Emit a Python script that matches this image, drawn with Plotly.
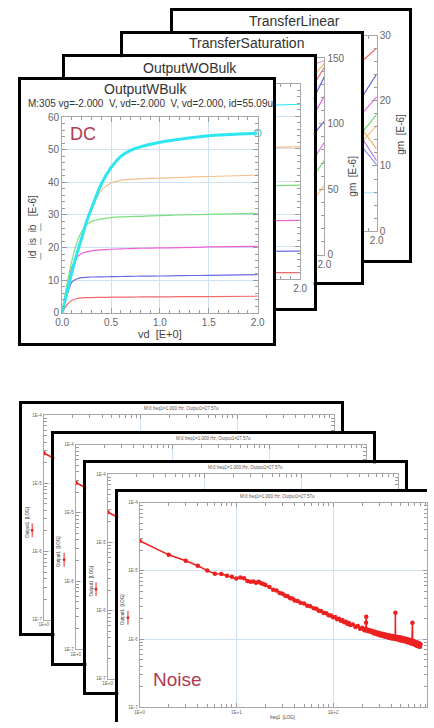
import plotly.graph_objects as go

W, H = 434, 728

# ---------------- DC data: OutputWBulk (front card) ----------------
vd = [0, 0.05, 0.1, 0.15, 0.2, 0.25, 0.3, 0.4, 0.5, 0.6, 0.7, 0.8, 1.0, 1.2, 1.5, 2.0]
id_cyan = [0, 6.5, 12.5, 18.0, 23.0, 28.0, 32.0, 39.5, 44.5, 48.0, 49.8, 50.9, 52.3, 53.2, 54.3, 55.09]
id_orange = [0, 6.0, 12.0, 17.5, 23.0, 28.0, 32.5, 37.5, 39.8, 40.6, 40.9, 41.1, 41.3, 41.5, 41.8, 42.2]
id_green = [0, 9.0, 16.0, 21.5, 25.0, 27.0, 28.0, 28.8, 29.2, 29.4, 29.5, 29.6, 29.8, 30.0, 30.2, 30.5]
id_magenta = [0, 7.5, 14.0, 17.0, 18.2, 18.7, 19.0, 19.3, 19.5, 19.6, 19.7, 19.8, 19.9, 20.0, 20.2, 20.4]
id_blue = [0, 5.5, 9.5, 10.4, 10.8, 10.9, 11.0, 11.05, 11.1, 11.15, 11.2, 11.25, 11.3, 11.4, 11.5, 11.7]
id_red = [0, 2.5, 3.8, 4.4, 4.6, 4.65, 4.7, 4.75, 4.8, 4.82, 4.85, 4.87, 4.9, 4.95, 5.0, 5.1]
cursor_vd = [2.0]
cursor_id = [55.09]

# ---------------- OutputWOBulk (visible right edge) ----------------
vd_wo = [1.5, 2.0]
wo_cyan = [53.2, 53.7]
wo_orange = [40.3, 40.7]
wo_green = [28.6, 28.9]
wo_magenta = [17.9, 18.1]
wo_blue = [8.6, 8.7]
wo_red = [2.1, 2.1]

# ---------------- TransferSaturation (visible right edge, gm) ----------------
vg_sat = [1.84, 2.0]
sat_pink = [145, 148]
sat_orange = [135, 146]
sat_red = [127, 143]
sat_blue = [116, 136]
sat_magenta = [104, 121]
sat_blue2 = [90, 102]
sat_violet = [70, 86]
sat_green = [58, 72]
sat_yellow = [40, 53]

# ---------------- TransferLinear (visible right edge, gm) ----------------
vg_lin = [1.78, 2.0]
lin_red = [25.6, 28.1]
lin_blue = [19.8, 24.1]
lin_magenta = [17.5, 20.6]
lin_green = [14.5, 17.9]
lin_orange = [13.2, 16.2]
lin_orange2 = [16.3, 12.6]
lin_purple = [15.0, 10.8]
lin_lavender = [13.5, 10.2]
lin_cyan = [5.9, 5.9]

# ---------------- Noise data ----------------
freq1 = [1, 2, 3, 4, 5, 6, 7, 8, 9, 10,
         11, 12, 13, 14, 15, 16, 17, 18, 19, 20,
         22, 24, 26, 28, 30, 32, 34, 36, 38, 40,
         43, 46, 50, 54, 58, 63, 67, 71, 75, 80,
         85, 90, 95, 100, 105, 110, 115, 120, 125, 130,
         135, 140, 145, 150, 160, 170, 180, 190, 200, 210,
         215, 218, 219, 220, 221, 225, 232, 240, 248, 255,
         262, 270, 278, 285, 292, 300, 308, 316, 323, 330,
         338, 345, 352, 360, 368, 375, 382, 390, 398, 405,
         412, 420, 430, 438, 440, 442, 450, 460, 470, 480,
         490, 500, 510, 520, 530, 540, 550, 560, 570, 580,
         590, 600, 610, 620, 630, 640, 650, 660, 665, 670,
         680, 690, 700, 710, 720, 730, 740, 750, 760, 770,
         780, 790, 800]
output1_uV = [27.6, 17.2, 14.1, 11.9, 10.1, 9.1, 9.0, 8.5, 8.2, 7.7,
              8.0, 7.8, 7.1, 6.9, 7.0, 6.7, 6.9, 6.6, 6.4, 6.2,
              5.8, 5.3, 5.15, 4.75, 4.62, 4.30, 4.25, 3.96, 3.92, 3.68,
              3.62, 3.40, 3.31, 3.08, 3.04, 2.82, 2.79, 2.61, 2.59, 2.41,
              2.40, 2.23, 2.22, 2.08, 2.10, 1.96, 1.98, 1.85, 1.88, 1.76,
              1.80, 1.68, 1.72, 1.61, 1.64, 1.50, 1.55, 1.42, 1.47, 1.35,
              1.41, 1.37, 1.74, 2.12, 1.33, 1.38, 1.30, 1.35, 1.27, 1.31,
              1.22, 1.28, 1.19, 1.25, 1.16, 1.23, 1.13, 1.20, 1.12, 1.19,
              1.09, 1.17, 1.08, 1.15, 1.06, 1.14, 1.04, 1.12, 1.03, 1.11,
              1.02, 1.10, 1.01, 1.07, 2.43, 1.02, 1.00, 1.08, 0.98, 1.06,
              0.96, 1.05, 0.95, 1.04, 0.94, 1.02, 0.93, 1.01, 0.92, 1.00,
              0.90, 0.98, 0.89, 0.97, 0.87, 0.96, 0.86, 1.74, 0.94, 0.85,
              0.93, 0.83, 0.91, 0.82, 0.90, 0.80, 0.89, 0.79, 0.87, 0.78,
              0.86, 0.77, 0.84]
output1 = [v * 1e-6 for v in output1_uV]

noise_xticks = [1, 10, 100, 1000]
noise_xtext = ["1E+0", "1E+1", "1E+2", "1E+3"]
noise_yticks = [1e-4, 1e-5, 1e-6, 1e-7]
noise_ytext = ["1E-4", "1E-5", "1E-6", "1E-7"]
dc_xticks = [0, 0.5, 1.0, 1.5, 2.0]
dc_xtext = ["0.0", "0.5", "1.0", "1.5", "2.0"]

# ---------------- styling ----------------
FONT = "Liberation Sans, Arial, sans-serif"
GRID = "#cfe2f3"
AXL = "#a8a8a8"
TICKC = "#9a9a9a"
LABEL_RED = "#b2384f"
C_CYAN, C_ORANGE, C_GREEN = "#2ee6f0", "#f5bf8a", "#7be07b"
C_MAG, C_BLUE, C_RED = "#ee5fd8", "#6b6be6", "#f06a6a"

layout = dict(width=W, height=H, autosize=False,
              margin=dict(l=0, r=0, t=0, b=0, pad=0),
              paper_bgcolor="white", plot_bgcolor="white",
              showlegend=False, hovermode=False,
              font=dict(family=FONT, color="#555"))
traces = []
annotations = []
shapes = []


def ref(p, n):
    return p if n == 1 else p + str(n)


def key(p, n):
    return p if n == 1 else p + str(n)


def xd(a, b):
    return [max(0, a / W), min(1, b / W)]


def yd(top, bot):
    return [max(0, 1 - bot / H), min(1, 1 - top / H)]


def placeholder(n):
    traces.append(go.Scatter(x=[None], y=[None], xaxis=ref("x", n), yaxis=ref("y", n),
                             showlegend=False, hoverinfo="skip"))


def cover(n, x0, y0, x1, y1, lw, full=True):
    common = dict(range=[0, 1], showline=True, linecolor="black", linewidth=lw,
                  mirror=full, showgrid=False, zeroline=False, showticklabels=False,
                  ticks="", fixedrange=True)
    xa = dict(domain=xd(x0, x1), anchor=ref("y", n), **common)
    ya = dict(domain=yd(y0, y1), anchor=ref("x", n), **common)
    if not full:
        xa["side"] = "top"
    layout[key("xaxis", n)] = xa
    layout[key("yaxis", n)] = ya
    placeholder(n)


def lin_axes(n, x0, y0, x1, y1, yrange, ydtick, yminor, yside="left", grid=True, front=True):
    xtext = dc_xtext if front else ["", "", "", "", dc_xtext[-1]]
    xa = dict(domain=xd(x0, x1), anchor=ref("y", n), range=[0, 2],
              tickvals=dc_xticks, ticktext=xtext,
              ticks="inside", ticklen=5, tickcolor=TICKC, showline=True, linecolor=AXL,
              linewidth=1, mirror="ticks", showgrid=grid, gridcolor=GRID, zeroline=False,
              tickfont=dict(size=10, color="#666"), fixedrange=True,
              minor=dict(tickmode="linear", tick0=0, dtick=0.1, ticks="inside", ticklen=3,
                         tickcolor=TICKC, showgrid=False))
    ya = dict(domain=yd(y0, y1), anchor=ref("x", n), range=yrange, side=yside,
              tickmode="linear", tick0=0, dtick=ydtick, showticklabels=(front or yside == "right"),
              ticks="inside", ticklen=5, tickcolor=TICKC, showline=True, linecolor=AXL,
              linewidth=1, mirror="ticks", showgrid=grid, gridcolor=GRID, zeroline=False,
              tickfont=dict(size=10, color="#666"), fixedrange=True,
              minor=dict(tickmode="linear", tick0=0, dtick=yminor, ticks="inside", ticklen=3,
                         tickcolor=TICKC, showgrid=False))
    layout[key("xaxis", n)] = xa
    layout[key("yaxis", n)] = ya


def line(n, x, y, color, width=1.2):
    traces.append(go.Scatter(x=x, y=y, mode="lines",
                             line=dict(color=color, width=width, shape="spline", smoothing=0.6),
                             xaxis=ref("x", n), yaxis=ref("y", n), showlegend=False,
                             hoverinfo="skip"))


def noise_axes(n, x0, y0, x1, y1, front):
    xmax = (min(x1, W) - x0) / 100.0
    xtext = noise_xtext if front else [noise_xtext[0], "", "", ""]
    xa = dict(type="log", domain=xd(x0, x1), anchor=ref("y", n), range=[0, xmax],
              tickvals=noise_xticks, ticktext=xtext, ticks="inside", ticklen=4,
              tickcolor=TICKC, showline=True, linecolor=AXL, linewidth=1, mirror="ticks",
              showgrid=True, gridcolor=GRID, zeroline=False, fixedrange=True,
              tickfont=dict(size=4.5, color="#666"),
              minor=dict(tickmode="linear", dtick="D1", ticks="inside", ticklen=3,
                         tickcolor=TICKC, showgrid=False))
    ya = dict(type="log", domain=yd(y0, y1), anchor=ref("x", n), range=[-7, -4],
              tickvals=noise_yticks, ticktext=noise_ytext, ticks="inside", ticklen=4,
              tickcolor=TICKC, showline=True, linecolor=AXL, linewidth=1, mirror="ticks",
              showgrid=True, gridcolor=GRID, zeroline=False, fixedrange=True,
              tickfont=dict(size=4.5, color="#666"),
              minor=dict(tickmode="linear", dtick="D1", ticks="inside", ticklen=3,
                         tickcolor=TICKC, showgrid=False))
    layout[key("xaxis", n)] = xa
    layout[key("yaxis", n)] = ya
    traces.append(go.Scatter(x=freq1, y=output1, mode="lines+markers",
                             line=dict(color="#ec2020", width=1.5),
                             marker=dict(color="#ec2020", size=4.5),
                             xaxis=ref("x", n), yaxis=ref("y", n), showlegend=False,
                             hoverinfo="skip"))


def text(s, px, py, size, color="#333", angle=0, xanchor="center"):
    annotations.append(dict(text=s, x=px / W, y=1 - py / H, xref="paper", yref="paper",
                            showarrow=False, xanchor=xanchor, yanchor="middle",
                            textangle=angle, font=dict(size=size, color=color, family=FONT)))


# ---- subplot 1: full-paper dummy (makes all later subplots paint their own background)
layout["xaxis"] = dict(domain=[0, 1], visible=False, range=[0, 1], anchor="y")
layout["yaxis"] = dict(domain=[0, 1], visible=False, range=[0, 1], anchor="x")
placeholder(1)

# ---- card 4: TransferLinear
cover(2, 172, 5, 415, 258, 2.5)
lin_axes(3, 215, 30, 382, 229, [0, 30], 10, 2, yside="right", grid=False, front=False)
for ys, c in [(lin_cyan, "#9be6f0"), (lin_lavender, "#8a8ae6"), (lin_purple, "#b07ad6"),
              (lin_orange2, "#f2b56a"), (lin_orange, "#f5c27a"), (lin_green, "#72da72"),
              (lin_magenta, "#e866e0"), (lin_blue, "#5f5fe0"), (lin_red, "#f06a6a")]:
    line(3, vg_lin, ys, c)

# ---- card 3: TransferSaturation
cover(4, 120, 28, 366, 281, 2.5)
lin_axes(5, 161, 53, 328, 253, [0, 150], 50, 10, yside="right", grid=False, front=False)
for ys, c in [(sat_yellow, "#f2c470"), (sat_green, "#72da72"), (sat_violet, "#d27ae6"),
              (sat_blue2, "#5a5ad8"), (sat_magenta, "#e866e0"), (sat_blue, "#5f5fe0"),
              (sat_red, "#f06a6a"), (sat_orange, "#f5b870"), (sat_pink, "#f3a3c3")]:
    line(5, vg_sat, ys, c)

# ---- card 2: OutputWOBulk
cover(6, 60, 52, 317, 307, 2.5)
lin_axes(7, 101, 79, 303, 278, [0, 60], 10, 2, front=False)
for ys, c in [(wo_red, C_RED), (wo_blue, C_BLUE), (wo_magenta, C_MAG),
              (wo_green, C_GREEN), (wo_orange, C_ORANGE), (wo_cyan, C_CYAN)]:
    line(7, vd_wo, ys, c)

# ---- card 1: OutputWBulk (front)
cover(8, 14, 75, 275, 343, 2.5)
lin_axes(9, 57, 113, 259, 312, [0, 60], 10, 2)
for ys, c in [(id_red, C_RED), (id_blue, C_BLUE), (id_magenta, C_MAG),
              (id_green, C_GREEN), (id_orange, C_ORANGE)]:
    line(9, vd, ys, c)
line(9, vd, id_cyan, C_CYAN, width=3)
traces.append(go.Scatter(x=cursor_vd, y=cursor_id, mode="markers",
                         marker=dict(symbol="circle-open", size=7, color="#5fcfe0",
                                     line=dict(width=1.2)),
                         xaxis="x9", yaxis="y9", cliponaxis=False, showlegend=False,
                         hoverinfo="skip"))

# ---- noise cards
noise_cards = [(16, 405, 345, 638), (49, 435, 378, 668), (82, 465, 411, 698), (115, 494, 434, 728)]
n = 10
for i, (cx0, cy0, cx1, cy1) in enumerate(noise_cards):
    front = i == len(noise_cards) - 1
    cover(n, cx0, cy0, cx1, cy1, 3, full=not front)
    px0, py0 = cx0 + 22, cy0 + 11
    noise_axes(n + 1, px0, py0, px0 + 300, py0 + 208, front)
    text("M:0 freq1=1.000 Hz, Output1=27.57u", (cx0 + cx0 + 329) / 2, cy0 + 4.5, 4.5, "#555")
    text("Output1  [LOG]", px0 - 17, py0 + 109, 4.5, "#444", angle=-90)
    shapes.append(dict(type="line", xref="paper", yref="paper", layer="above",
                       x0=(px0 - 12) / W, x1=(px0 - 12) / W,
                       y0=1 - (py0 + 110) / H, y1=1 - (py0 + 124) / H,
                       line=dict(color="#ec2020", width=1)))
    shapes.append(dict(type="circle", xref="paper", yref="paper", layer="above",
                       x0=(px0 - 13.2) / W, x1=(px0 - 10.8) / W,
                       y0=1 - (py0 + 115.8) / H, y1=1 - (py0 + 118.2) / H,
                       fillcolor="#ec2020", line=dict(color="#ec2020", width=0.5)))
    n += 2

# ---- texts
text("TransferLinear", 297, 15, 14)
text("TransferSaturation", 247, 38, 14)
text("OutputWOBulk", 189, 63, 14)
text("OutputWBulk", 143, 84, 14)
text("M:305 vg=-2.000  V, vd=-2.000  V, vd=2.000, id=55.09u", 20, 99, 10, "#333", xanchor="left")
text("DC", 79, 130, 18, LABEL_RED)
text("vd  [E+0]", 158, 333, 11, "#444")
text("id  is  ib   [E-6]", 26, 224, 10, "#444", angle=-90)
text("gm  [E-6]", 357, 173, 10, "#444", angle=-90)
text("gm  [E-6]", 407, 130, 10, "#444", angle=-90)
text("freq1  [LOG]", 285, 723, 4.5, "#444")
text("Noise", 176, 685, 19, LABEL_RED)

for (ya0, ya1) in [(251, 258), (236, 243), (221, 229)]:
    shapes.append(dict(type="line", xref="paper", yref="paper", layer="above",
                       x0=35 / W, x1=35 / W, y0=1 - ya0 / H, y1=1 - ya1 / H,
                       line=dict(color="#999", width=1)))

layout["annotations"] = annotations
layout["shapes"] = shapes

fig = go.Figure(data=traces, layout=layout)
fig.write_html("out.html", config={"displayModeBar": False},
               post_script="document.body.style.margin='0';document.body.style.padding='0';")
